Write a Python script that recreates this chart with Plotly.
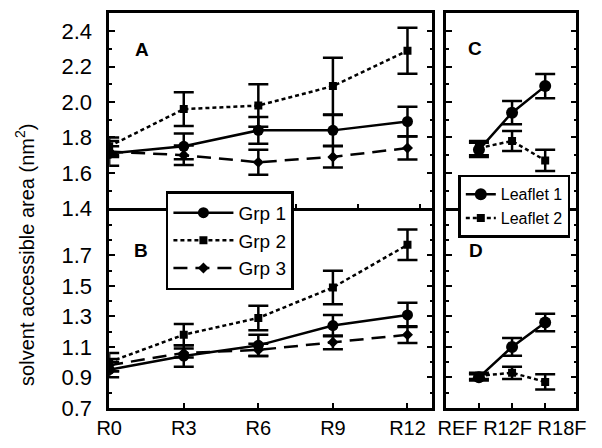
import plotly.graph_objects as go

# ---------------- data ----------------
grp_cats = ["R0", "R3", "R6", "R9", "R12"]
leaf_cats = ["REF", "R12F", "R18F"]

# Panel A
grp1_A = [1.71, 1.75, 1.84, 1.84, 1.89]
grp1_A_err = [0.07, 0.073, 0.075, 0.087, 0.083]
grp2_A = [1.75, 1.96, 1.98, 2.09, 2.29]
grp2_A_err = [0.05, 0.095, 0.12, 0.16, 0.13]
grp3_A = [1.72, 1.70, 1.66, 1.69, 1.74]
grp3_A_err = [0.03, 0.055, 0.07, 0.06, 0.065]

# Panel B
grp1_B = [0.95, 1.04, 1.11, 1.24, 1.31]
grp1_B_err = [0.05, 0.07, 0.07, 0.07, 0.08]
grp2_B = [1.00, 1.18, 1.29, 1.49, 1.77]
grp2_B_err = [0.06, 0.07, 0.08, 0.11, 0.10]
grp3_B = [0.98, 1.06, 1.08, 1.13, 1.18]
grp3_B_err = [0.04, 0.03, 0.04, 0.045, 0.055]

# Panel C
leaf1_C = [1.73, 1.94, 2.09]
leaf1_C_err = [0.04, 0.066, 0.068]
leaf2_C = [1.74, 1.78, 1.67]
leaf2_C_err = [0.04, 0.056, 0.06]

# Panel D
leaf1_D = [0.90, 1.10, 1.26]
leaf1_D_err = [0.02, 0.058, 0.057]
leaf2_D = [0.91, 0.93, 0.87]
leaf2_D_err = [0.02, 0.04, 0.05]

yticks_A = [1.4, 1.6, 1.8, 2.0, 2.2, 2.4]
yticks_B = [0.7, 0.9, 1.1, 1.3, 1.5, 1.7]

# ---------------- helpers ----------------
grp_x = [int(c[1:]) for c in grp_cats]
leaf_x = list(range(1, len(leaf_cats) + 1))

W, H = 602, 448
FONT = "Liberation Sans, Arial, Helvetica, sans-serif"


def err(arr):
    return dict(type="data", array=arr, visible=True, color="black",
                thickness=2.5, width=10)


grp_styles = [
    ("Grp 1", dict(symbol="circle", size=11), dict(width=2.5, dash="solid")),
    ("Grp 2", dict(symbol="square", size=8), dict(width=2.5, dash="4px,3px")),
    ("Grp 3", dict(symbol="diamond", size=8.5), dict(width=2.5, dash="14px,8px")),
]
leaf_styles = [
    ("Leaflet 1", dict(symbol="circle", size=12), dict(width=2.5, dash="solid")),
    ("Leaflet 2", dict(symbol="square", size=8), dict(width=2.5, dash="4px,3px")),
]

fig = go.Figure()

grpA = [(grp1_A, grp1_A_err), (grp2_A, grp2_A_err), (grp3_A, grp3_A_err)]
grpB = [(grp1_B, grp1_B_err), (grp2_B, grp2_B_err), (grp3_B, grp3_B_err)]
for (name, mk, ln), (ya, ea), (yb, eb) in zip(grp_styles, grpA, grpB):
    fig.add_trace(go.Scatter(x=grp_x, y=ya, error_y=err(ea), name=name,
                             mode="lines+markers", xaxis="x", yaxis="y",
                             marker=dict(color="black", **mk),
                             line=dict(color="black", **ln),
                             legend="legend", showlegend=True))
    fig.add_trace(go.Scatter(x=grp_x, y=yb, error_y=err(eb), name=name,
                             mode="lines+markers", xaxis="x2", yaxis="y2",
                             marker=dict(color="black", **mk),
                             line=dict(color="black", **ln),
                             showlegend=False))

leafC = [(leaf1_C, leaf1_C_err), (leaf2_C, leaf2_C_err)]
leafD = [(leaf1_D, leaf1_D_err), (leaf2_D, leaf2_D_err)]
for (name, mk, ln), (yc, ec), (yd, ed) in zip(leaf_styles, leafC, leafD):
    fig.add_trace(go.Scatter(x=leaf_x, y=yc, error_y=err(ec), name=name,
                             mode="lines+markers", xaxis="x3", yaxis="y3",
                             marker=dict(color="black", **mk),
                             line=dict(color="black", **ln),
                             legend="legend2", showlegend=True))
    fig.add_trace(go.Scatter(x=leaf_x, y=yd, error_y=err(ed), name=name,
                             mode="lines+markers", xaxis="x4", yaxis="y4",
                             marker=dict(color="black", **mk),
                             line=dict(color="black", **ln),
                             showlegend=False))

# ---------------- layout ----------------
xL = [100 / W, 436 / W]
xR = [450 / W, 585.7 / W]
yTop = [1 - 214.5 / H, 1 - 13 / H]
yBot = [1 - 420 / H, 1 - 214.5 / H]

common = dict(showline=True, linecolor="black", linewidth=2.5,
              showgrid=False, zeroline=False, ticks="inside",
              tickcolor="black", tickwidth=1.5)
tickfont = dict(family=FONT, size=20, color="black")
ytickfont = dict(family=FONT, size=22, color="black")

yA_range = [1.4, 2.505]
yB_range = [0.7, 2.01]
xL_range = [0, 13]
xR_range = [0, 3.94]

ymin = dict(ticks="inside", ticklen=3, tickcolor="black", tickwidth=1.5,
            showgrid=False, tickmode="linear", dtick=0.1)

mid = len(leaf_x) // 2

fig.update_layout(
    width=W, height=H, margin=dict(l=0, r=0, t=0, b=0),
    paper_bgcolor="white", plot_bgcolor="white",
    font=dict(family=FONT, color="black"),
    xaxis=dict(domain=xL, range=xL_range, anchor="y", mirror=True,
               tickmode="linear", tick0=0, dtick=2.5, ticklen=5,
               showticklabels=False, **common),
    yaxis=dict(domain=yTop, range=yA_range, anchor="x", mirror="allticks",
               tickvals=yticks_A, ticktext=[f"{v:.1f}" for v in yticks_A],
               ticklen=6, tickfont=ytickfont, ticklabelstandoff=10,
               minor=dict(tick0=1.4, **ymin), **common),
    xaxis2=dict(domain=xL, range=xL_range, anchor="y2", mirror=False,
                tickvals=grp_x, ticktext=grp_cats, ticklen=5, tickangle=0,
                tickfont=tickfont, **common),
    yaxis2=dict(domain=yBot, range=yB_range, anchor="x2", mirror="allticks",
                tickvals=yticks_B, ticktext=[f"{v:.1f}" for v in yticks_B],
                ticklen=6, tickfont=ytickfont, ticklabelstandoff=10,
                minor=dict(tick0=0.7, **ymin), **common),
    xaxis3=dict(domain=xR, range=xR_range, anchor="y3", mirror=True,
                tickvals=leaf_x, ticklen=5, showticklabels=False, **common),
    yaxis3=dict(domain=yTop, range=yA_range, anchor="x3", mirror="allticks",
                tickvals=yticks_A, ticklen=6, showticklabels=False,
                minor=dict(tick0=1.4, **ymin), **common),
    xaxis4=dict(domain=xR, range=xR_range, anchor="y4", mirror=False,
                tickvals=[leaf_x[mid]],
                ticktext=[" ".join(leaf_cats)],
                ticklen=5, tickangle=0, tickfont=tickfont,
                minor=dict(tickmode="linear", tick0=1, dtick=1,
                           ticks="inside", ticklen=5, tickcolor="black",
                           tickwidth=1.5, showgrid=False),
                **common),
    yaxis4=dict(domain=yBot, range=yB_range, anchor="x4", mirror="allticks",
                tickvals=yticks_B, ticklen=6, showticklabels=False,
                minor=dict(tick0=0.7, **ymin), **common),
    legend=dict(x=159 / W, y=1 - 197 / H, xanchor="left", yanchor="top",
                bgcolor="white", bordercolor="black", borderwidth=2.5,
                font=dict(family=FONT, size=19, color="black"),
                itemwidth=60, tracegroupgap=0),
    legend2=dict(x=463 / W, y=1 - 180 / H, xanchor="left", yanchor="top",
                 bgcolor="white", bordercolor="black", borderwidth=2.5,
                 font=dict(family=FONT, size=16, color="black"),
                 itemwidth=30, tracegroupgap=0),
    showlegend=True,
)

letters = [("A", 134, 51), ("B", 133, 258), ("C", 480, 50), ("D", 481, 258)]
for t, px, py in letters:
    fig.add_annotation(text=f"<b>{t}</b>", x=px / W, y=1 - py / H,
                       xref="paper", yref="paper", showarrow=False,
                       xanchor="center", yanchor="middle",
                       font=dict(family=FONT, size=19, color="black"))

fig.add_annotation(text="solvent accessible area (nm<sup>2</sup>)",
                   x=12 / W, y=1 - 263 / H, xref="paper", yref="paper",
                   showarrow=False, textangle=-90, xanchor="center",
                   yanchor="middle",
                   font=dict(family=FONT, size=20, color="black"))

fig.write_html("out.html")
